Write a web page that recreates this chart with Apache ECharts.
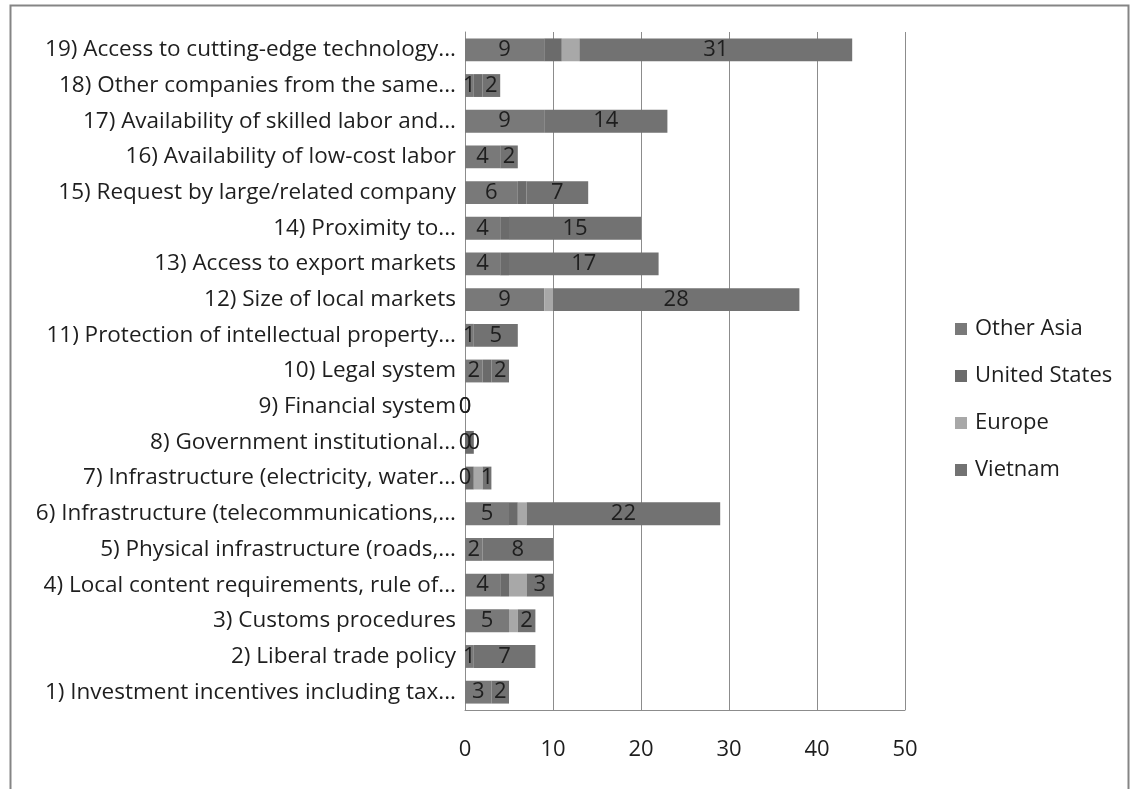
<!DOCTYPE html>
<html>
<head>
<meta charset="utf-8">
<title>Location factors by investor origin</title>
<script src="https://cdn.jsdelivr.net/npm/echarts@6/dist/echarts.min.js"></script>
<style>
  html, body { margin: 0; padding: 0; background: #ffffff; }
  #chart { width: 1132px; height: 789px; }
</style>
</head>
<body>
<div id="chart"></div>
<script>
// Factors, listed from the bottom row (1) up to the top row (19)
const categories = [
  '1) Investment incentives including tax...',
  '2) Liberal trade policy',
  '3) Customs procedures',
  '4) Local content requirements, rule of...',
  '5) Physical infrastructure (roads,...',
  '6) Infrastructure (telecommunications,...',
  '7) Infrastructure (electricity, water...',
  '8) Government institutional...',
  '9) Financial system',
  '10) Legal system',
  '11) Protection of intellectual property...',
  '12) Size of local markets',
  '13) Access to export markets',
  '14) Proximity to...',
  '15) Request by large/related company',
  '16) Availability of low-cost labor',
  '17) Availability of skilled labor and...',
  '18) Other companies from the same...',
  '19) Access to cutting-edge technology...'
];

// Number of responses per origin, same order as categories
const otherAsia    = [3, 1, 5, 4, 2, 5, 0, 0, 0, 2, 1, 9, 4, 4, 6, 4, 9, 1, 9];
const unitedStates = [0, 0, 0, 1, 0, 1, 1, 1, 0, 1, 0, 0, 1, 1, 1, 0, 0, 1, 2];
const europe       = [0, 0, 1, 2, 0, 1, 1, 0, 0, 0, 0, 1, 0, 0, 0, 0, 0, 0, 2];
const vietnam      = [2, 7, 2, 3, 8, 22, 1, 0, 0, 2, 5, 28, 17, 15, 7, 2, 14, 2, 31];

const xTicks = { min: 0, max: 50, interval: 10 };

const FONT = '"Open Sans"';
const SIZE = 22;
const TEXT = '#1e1e1e';

const valueLabel = {
  show: true,
  position: 'inside',
  color: TEXT,
  fontFamily: FONT,
  fontSize: SIZE
};

const chart = echarts.init(document.getElementById('chart'), null, { renderer: 'canvas' });

chart.setOption({
  backgroundColor: '#ffffff',
  animation: false,
  textStyle: { fontFamily: FONT },
  graphic: [{
    type: 'rect',
    left: 8, top: 3,
    shape: { width: 1118, height: 810 },
    style: { fill: 'none', stroke: '#858585', lineWidth: 2 },
    silent: true
  }],
  grid: { left: 465, right: 227, top: 32, bottom: 79, containLabel: false },
  legend: {
    orient: 'vertical',
    left: 955,
    top: 318,
    padding: 0,
    itemWidth: 12,
    itemHeight: 12,
    itemGap: 25,
    icon: 'rect',
    textStyle: {
      color: TEXT, fontFamily: FONT, fontSize: SIZE,
      lineHeight: 22, padding: [0, 0, 0, 3]
    },
    data: ['Other Asia', 'United States', 'Europe', 'Vietnam']
  },
  xAxis: {
    type: 'value',
    min: xTicks.min,
    max: xTicks.max,
    interval: xTicks.interval,
    axisLine: { show: true, lineStyle: { color: '#8c8c8c', width: 1 } },
    axisTick: { show: false },
    axisLabel: { color: TEXT, fontFamily: FONT, fontSize: SIZE, margin: 29 },
    splitLine: { show: true, lineStyle: { color: '#8c8c8c', width: 1 } }
  },
  yAxis: {
    type: 'category',
    data: categories,
    axisLine: { show: true, lineStyle: { color: '#8c8c8c', width: 1 } },
    axisTick: { show: false },
    axisLabel: { color: TEXT, fontFamily: FONT, fontSize: 22.5, margin: 9 },
    splitLine: { show: false }
  },
  series: [
    {
      name: 'Other Asia', type: 'bar', stack: 'total',
      data: otherAsia, barCategoryGap: '36%',
      itemStyle: { color: '#797979' },
      label: valueLabel
    },
    {
      name: 'United States', type: 'bar', stack: 'total',
      data: unitedStates,
      itemStyle: { color: '#6b6b6b' }
    },
    {
      name: 'Europe', type: 'bar', stack: 'total',
      data: europe,
      itemStyle: { color: '#a8a8a8' }
    },
    {
      name: 'Vietnam', type: 'bar', stack: 'total',
      data: vietnam,
      itemStyle: { color: '#727272' },
      label: valueLabel
    }
  ]
});
</script>
</body>
</html>
